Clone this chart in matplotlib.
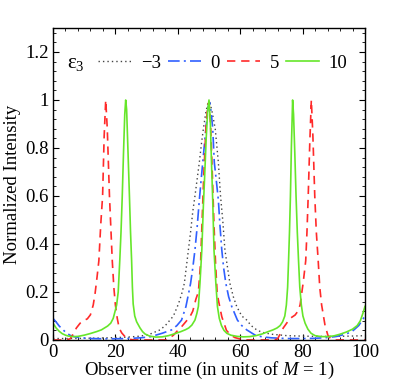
import matplotlib
matplotlib.use("Agg")
import matplotlib.pyplot as plt
from matplotlib.ticker import MultipleLocator, FuncFormatter

plt.rcParams["font.family"] = ["Liberation Serif", "DejaVu Serif"]
plt.rcParams["mathtext.fontset"] = "custom"
plt.rcParams["mathtext.rm"] = "Liberation Serif"
plt.rcParams["mathtext.it"] = "Liberation Serif:italic"
plt.rcParams["font.size"] = 13.5

# eps3 = -3 (dotted)
t_m3 = [0, 5, 10, 15, 20, 24, 28, 31, 34.3, 36, 37.5, 38.6, 40.2, 41.2, 42.1,
        43.4, 44.1, 44.8, 45.5, 46.2, 46.9, 47.6, 48.2, 49.0, 49.7, 50.3, 51.0,
        52.0, 52.5, 53.0, 53.7, 54.4, 55.1, 56.7, 57.8, 58.9, 60.5, 62.1, 63.5,
        65.3, 67, 70, 75, 80, 85, 90, 95, 100]
I_m3 = [0.006, 0.006, 0.007, 0.008, 0.010, 0.012, 0.016, 0.024, 0.042, 0.060,
        0.083, 0.10, 0.15, 0.19, 0.236, 0.375, 0.45, 0.535, 0.60, 0.67, 0.74,
        0.82, 0.88, 0.95, 0.99, 0.99, 0.95, 0.88, 0.81, 0.74, 0.60, 0.50, 0.375,
        0.236, 0.18, 0.139, 0.10, 0.083, 0.06, 0.042, 0.032, 0.024, 0.018,
        0.016, 0.015, 0.015, 0.016, 0.018]

# eps3 = 0 (dash-dot)
t_0 = [0, 1, 2, 3, 4, 5.4, 7, 9, 12, 16, 20, 24, 28, 31, 33.2, 35, 36.5, 38.0,
       39.7, 41.2, 42.6, 43.4, 44.1, 44.8, 45.5, 46.2, 46.9, 47.5, 48.0, 49.0,
       49.7, 50.2, 50.7, 51.2, 51.7, 52.3, 53.0, 53.5, 54.1, 54.7, 55.4, 56.3,
       57.3, 59.1, 60.5, 62.1, 64.7, 67, 70, 75, 80, 84, 88, 91, 94, 96, 98, 100]
I_0 = [0.09, 0.075, 0.058, 0.045, 0.033, 0.02, 0.013, 0.009, 0.006, 0.005,
       0.005, 0.006, 0.009, 0.013, 0.021, 0.028, 0.035, 0.042, 0.06, 0.083,
       0.139, 0.19, 0.236, 0.30, 0.375, 0.47, 0.583, 0.67, 0.74, 0.88, 0.97,
       0.99, 0.95, 0.88, 0.74, 0.67, 0.583, 0.48, 0.375, 0.30, 0.236, 0.18,
       0.139, 0.083, 0.06, 0.042, 0.021, 0.013, 0.009, 0.006, 0.006, 0.007,
       0.010, 0.015, 0.025, 0.037, 0.06, 0.10]

# eps3 = 5 (dashed)
t_5 = [0, 4, 5.5, 6.5, 7.5, 8.7, 10, 11, 12, 12.9, 13.5, 14.1, 14.7, 15.3,
       15.9, 16.4, 16.9, 17.4, 18.1, 18.6, 19.0, 19.5, 20.0, 20.6, 21.2, 22,
       23, 24, 25, 26, 36, 37, 38.6, 40, 41.2, 42.5, 43.9, 44.8, 45.8, 46.6,
       47.3, 47.8, 48.3, 49.0, 49.6, 50.0, 50.5, 51.1, 51.6, 52.1, 52.6, 53.0,
       54.1, 55.6, 57, 58.3, 60, 61.5, 71, 72, 73.8, 75, 76, 77.6, 78.5, 79.2,
       80.2, 81.0, 81.4, 81.8, 82.3, 82.8, 83.3, 83.9, 84.4, 85.0, 85.5, 86.1,
       87.2, 88.1, 89, 90, 100]
I_5 = [0.0, 0.0, 0.005, 0.025, 0.05, 0.07, 0.082, 0.088, 0.105, 0.146, 0.195,
       0.26, 0.33, 0.48, 0.60, 0.85, 1.0, 0.88, 0.60, 0.45, 0.33, 0.22, 0.146,
       0.09, 0.05, 0.03, 0.015, 0.006, 0.002, 0.0, 0.0, 0.005, 0.02, 0.04,
       0.055, 0.075, 0.097, 0.12, 0.17, 0.20, 0.32, 0.5, 0.68, 0.88, 0.98,
       0.99, 0.90, 0.68, 0.48, 0.32, 0.20, 0.167, 0.097, 0.04, 0.02, 0.01,
       0.004, 0.0, 0.0, 0.005, 0.05, 0.072, 0.09, 0.104, 0.12, 0.146, 0.24,
       0.33, 0.45, 0.6, 0.82, 1.0, 0.85, 0.6, 0.45, 0.33, 0.22, 0.146, 0.06,
       0.02, 0.005, 0.0, 0.0]

# eps3 = 10 (solid)
t_10 = [0, 1, 2, 3, 4, 5, 6.5, 8, 10, 12, 14, 15.5, 16.5, 17.5, 18.5, 19.3,
        19.9, 20.4, 20.9, 21.4, 21.8, 22.2, 22.6, 23.0, 23.3, 23.6, 24.0, 24.5,
        24.85, 25.2, 25.45, 25.7, 26.2, 26.8, 27.9, 28.7, 29.5, 31, 33, 35, 37,
        39, 41, 42.5, 43.5, 44.5, 45.5, 46.1, 46.6, 47.1, 47.7, 48.2, 48.6,
        49.1, 49.6, 50.0, 50.4, 50.8, 51.2, 51.6, 52.2, 52.7, 53.3, 54.0, 54.8,
        55.7, 57, 59, 61, 63, 65, 67, 69, 70.5, 71.8, 72.8, 73.6, 74.3, 74.8,
        75.2, 75.5, 75.8, 76.1, 76.4, 76.8, 77.1, 77.5, 77.9, 78.3, 78.7, 79.1,
        79.6, 80.1, 80.8, 81.7, 82.7, 84, 86, 88, 90, 92, 94, 96, 97.5, 98.5,
        99.3, 100]
I_10 = [0.07, 0.05, 0.036, 0.026, 0.02, 0.016, 0.014, 0.015, 0.02, 0.027,
        0.035, 0.042, 0.05, 0.058, 0.07, 0.09, 0.12, 0.146, 0.20, 0.33, 0.45,
        0.60, 0.78, 0.94, 1.0, 0.96, 0.80, 0.60, 0.45, 0.33, 0.22, 0.15, 0.10,
        0.076, 0.05, 0.035, 0.025, 0.016, 0.012, 0.013, 0.018, 0.026, 0.035,
        0.043, 0.05, 0.062, 0.083, 0.11, 0.14, 0.236, 0.375, 0.56, 0.68, 0.84,
        0.96, 1.0, 0.92, 0.74, 0.58, 0.375, 0.236, 0.14, 0.09, 0.06, 0.04,
        0.028, 0.02, 0.015, 0.013, 0.014, 0.018, 0.025, 0.035, 0.042, 0.05,
        0.06, 0.076, 0.10, 0.146, 0.22, 0.33, 0.45, 0.6, 0.8, 1.0, 0.94, 0.78,
        0.6, 0.45, 0.33, 0.22, 0.146, 0.1, 0.07, 0.045, 0.028, 0.018, 0.014,
        0.014, 0.017, 0.024, 0.033, 0.045, 0.06, 0.08, 0.11, 0.14]

labels = ["\u22123", "0", "5", "10"]

fig = plt.figure(figsize=(4.03, 3.82), dpi=100)
ax = fig.add_axes([0.1315, 0.110, 0.7742, 0.8167])

ax.plot(t_m3, I_m3, color="#444444", lw=1.0, ls=(0, (1, 2.2)), label=labels[0])
ax.plot(t_0, I_0, color="#3060ff", lw=1.2, ls=(0, (7, 2.5, 1.2, 2.5)), label=labels[1])
ax.plot(t_5, I_5, color="#ff2a2a", lw=1.2, ls=(0, (5, 3.5)), label=labels[2])
ax.plot(t_10, I_10, color="#66e62a", lw=1.2, label=labels[3])

ax.set_xlim(0, 100)
ax.set_ylim(0, 1.3)
ax.xaxis.set_major_locator(MultipleLocator(20))
ax.xaxis.set_minor_locator(MultipleLocator(4))
ax.yaxis.set_major_locator(MultipleLocator(0.2))
ax.yaxis.set_minor_locator(MultipleLocator(0.04))
ax.yaxis.set_major_formatter(FuncFormatter(lambda v, p: "%g" % round(v, 2)))
ax.tick_params(which="both", direction="in", top=True, right=True)
ax.tick_params(which="major", length=4, width=0.8, labelsize=13.5, pad=3)
ax.tick_params(which="minor", length=2, width=0.6)
for s in ax.spines.values():
    s.set_linewidth(1.0)

ax.set_xlabel(r"Observer time (in units of $M$ = 1)", fontsize=13.5, labelpad=-1)
ax.set_ylabel("Normalized Intensity", fontsize=13.5, labelpad=3)

ax.text(0.045, 0.885, "\u03b5$_3$", transform=ax.transAxes, fontsize=15,
        va="center", ha="left")
ax.legend(loc="center left", bbox_to_anchor=(0.144, 0.888), ncol=4,
          frameon=False, handlelength=1.8, handletextpad=0.5,
          columnspacing=0.35, borderpad=0, borderaxespad=0, fontsize=13.5)

fig.savefig("out.png", dpi=100)
